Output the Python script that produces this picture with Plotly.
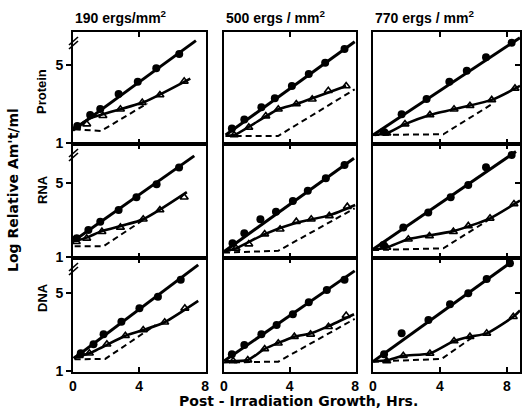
import plotly.graph_objects as go

# ---------------- text / ticks ----------------
DOSE_LABELS = ["190 ergs/mm<sup>2</sup>", "500 ergs / mm<sup>2</sup>", "770 ergs / mm<sup>2</sup>"]
COMPONENT_LABELS = ["Protein", "RNA", "DNA"]
X_TICK_VALS = [0, 4, 8]
X_TICK_TEXT = ["0", "4", "8"]
Y_TICK_VALS = [1, 5]
Y_TICK_TEXT = ["1", "5"]
RIGHT_TICK_VALS = [5]
X_TITLE = "Post - Irradiation Growth, Hrs."
Y_TITLE = "Log Relative Am't/ml"

# ---------------- data: 190 ergs, Protein ----------------
p190_prot_circ_x = [0.26, 1.04, 1.65, 2.76, 3.92, 5.04, 6.43]
p190_prot_circ_y = [1.87, 2.44, 2.74, 3.51, 4.14, 4.83, 5.56]
p190_prot_fit_x = [0.0, 7.44]
p190_prot_fit_y = [1.65, 6.25]
p190_prot_tri_x = [0.2, 0.83, 1.81, 2.87, 4.19, 5.26, 6.73]
p190_prot_tri_y = [1.8, 1.97, 2.4, 2.73, 3.07, 3.46, 4.16]
p190_prot_curve_x = [0.05, 1.0, 4.3, 7.1]
p190_prot_curve_y = [1.72, 2.25, 3.1, 4.3]
p190_prot_dash_x = [0.1, 1.7, 4.5]
p190_prot_dash_y = [1.7, 1.62, 3.03]

# ---------------- 500 ergs, Protein ----------------
p500_prot_circ_x = [0.48, 1.24, 2.28, 3.1, 4.14, 5.17, 6.17, 7.35]
p500_prot_circ_y = [1.75, 2.21, 2.83, 3.29, 3.92, 4.54, 5.12, 5.82]
p500_prot_fit_x = [0.1, 7.97]
p500_prot_fit_y = [1.41, 6.19]
p500_prot_tri_x = [0.62, 1.51, 2.55, 3.31, 4.41, 5.38, 6.36, 7.45]
p500_prot_tri_y = [1.41, 1.8, 2.38, 2.73, 3.0, 3.24, 3.68, 3.92]
p500_prot_curve_x = [0.1, 0.62, 3.31, 4.41, 7.45]
p500_prot_curve_y = [1.38, 1.41, 2.73, 3.0, 3.92]
p500_prot_dash_x = [0.1, 3.3, 7.97]
p500_prot_dash_y = [1.36, 1.36, 3.75]

# ---------------- 770 ergs, Protein ----------------
p770_prot_circ_x = [0.62, 1.71, 3.2, 4.56, 5.6, 6.75, 8.28]
p770_prot_circ_y = [1.58, 2.47, 3.26, 4.14, 4.71, 5.39, 6.14]
p770_prot_fit_x = [0.0, 8.78]
p770_prot_fit_y = [1.41, 6.4]
p770_prot_tri_x = [0.82, 1.91, 3.4, 4.84, 5.79, 7.09, 8.48]
p770_prot_tri_y = [1.5, 1.97, 2.44, 2.73, 2.91, 3.21, 3.8]
p770_prot_curve_x = [0.1, 0.82, 1.91, 3.4, 7.09, 8.78]
p770_prot_curve_y = [1.42, 1.5, 1.97, 2.44, 3.21, 3.93]
p770_prot_dash_x = [0.0, 4.2, 7.18]
p770_prot_dash_y = [1.41, 1.45, 3.03]

# ---------------- 190 ergs, RNA ----------------
p190_rna_circ_x = [0.22, 0.93, 1.65, 2.76, 3.84, 5.06, 6.42]
p190_rna_circ_y = [2.01, 2.46, 2.91, 3.54, 4.23, 4.93, 5.83]
p190_rna_fit_x = [0.05, 7.34]
p190_rna_fit_y = [1.88, 6.46]
p190_rna_tri_x = [0.2, 0.83, 1.75, 2.87, 4.25, 5.26, 6.73]
p190_rna_tri_y = [1.83, 2.01, 2.37, 2.6, 3.04, 3.54, 4.23]
p190_rna_curve_x = [0.05, 0.83, 1.75, 4.25, 6.89]
p190_rna_curve_y = [1.85, 2.05, 2.4, 3.04, 4.5]
p190_rna_dash_x = [0.1, 1.85, 4.25]
p190_rna_dash_y = [1.59, 1.59, 3.0]

# ---------------- 500 ergs, RNA ----------------
p500_rna_circ_x = [0.52, 1.24, 2.22, 3.17, 4.2, 5.11, 6.21, 7.35]
p500_rna_circ_y = [1.74, 2.28, 3.04, 3.45, 4.03, 4.58, 5.25, 5.97]
p500_rna_fit_x = [0.0, 7.93]
p500_rna_fit_y = [1.29, 6.33]
p500_rna_tri_x = [0.73, 1.51, 2.48, 3.42, 4.41, 5.32, 6.42, 7.52]
p500_rna_tri_y = [1.47, 1.7, 2.24, 2.5, 2.91, 3.04, 3.22, 3.72]
p500_rna_curve_x = [0.05, 0.73, 2.48, 4.41, 6.42, 8.0]
p500_rna_curve_y = [1.3, 1.47, 2.24, 2.85, 3.25, 3.81]
p500_rna_dash_x = [0.0, 3.31, 7.97]
p500_rna_dash_y = [1.24, 1.34, 3.63]

# ---------------- 770 ergs, RNA ----------------
p770_rna_circ_x = [0.62, 1.81, 3.3, 4.64, 5.69, 6.75, 8.28]
p770_rna_circ_y = [1.65, 2.6, 3.4, 4.23, 4.89, 5.85, 6.51]
p770_rna_fit_x = [0.0, 8.54]
p770_rna_fit_y = [1.42, 6.69]
p770_rna_tri_x = [0.82, 2.11, 3.37, 4.8, 5.69, 6.99, 8.42]
p770_rna_tri_y = [1.52, 1.96, 2.14, 2.37, 2.68, 3.09, 3.86]
p770_rna_curve_x = [0.05, 0.82, 2.11, 4.8, 6.99, 8.78]
p770_rna_curve_y = [1.4, 1.52, 1.96, 2.4, 3.09, 4.05]
p770_rna_dash_x = [0.0, 4.2, 6.89]
p770_rna_dash_y = [1.38, 1.47, 3.0]

# ---------------- 190 ergs, DNA ----------------
p190_dna_circ_x = [0.47, 1.24, 1.85, 2.93, 4.02, 5.14, 6.52]
p190_dna_circ_y = [1.91, 2.37, 2.88, 3.53, 4.21, 4.81, 5.67]
p190_dna_fit_x = [0.05, 7.58]
p190_dna_fit_y = [1.64, 6.44]
p190_dna_tri_x = [0.38, 0.99, 2.05, 3.17, 4.25, 5.55, 6.77]
p190_dna_tri_y = [1.79, 1.91, 2.37, 2.81, 3.1, 3.5, 4.21]
p190_dna_curve_x = [0.05, 0.99, 3.17, 4.25, 5.55, 7.58]
p190_dna_curve_y = [1.7, 1.91, 2.81, 3.1, 3.5, 4.59]
p190_dna_dash_x = [0.1, 1.95, 5.0]
p190_dna_dash_y = [1.6, 1.62, 3.36]

# ---------------- 500 ergs, DNA ----------------
p500_dna_circ_x = [0.48, 1.24, 2.28, 3.21, 4.2, 5.17, 6.27, 7.35]
p500_dna_circ_y = [1.86, 2.33, 2.88, 3.36, 3.91, 4.52, 5.15, 5.67]
p500_dna_fit_x = [0.0, 7.97]
p500_dna_fit_y = [1.51, 6.13]
p500_dna_tri_x = [0.56, 1.45, 2.48, 3.31, 4.29, 5.28, 6.37, 7.45]
p500_dna_tri_y = [1.51, 1.56, 2.13, 2.42, 2.76, 2.88, 3.27, 3.84]
p500_dna_curve_x = [0.05, 1.45, 2.48, 4.29, 5.28, 6.37, 7.93]
p500_dna_curve_y = [1.5, 1.56, 2.13, 2.76, 2.92, 3.3, 3.91]
p500_dna_dash_x = [0.0, 3.31, 7.97]
p500_dna_dash_y = [1.44, 1.48, 3.67]

# ---------------- 770 ergs, DNA ----------------
p770_dna_circ_x = [0.66, 1.71, 3.31, 4.6, 5.69, 6.79, 8.18]
p770_dna_circ_y = [1.86, 2.93, 3.62, 4.42, 4.98, 5.72, 6.52]
p770_dna_fit_x = [0.0, 8.08]
p770_dna_fit_y = [1.48, 6.47]
p770_dna_tri_x = [0.82, 1.81, 3.4, 4.84, 5.79, 6.79, 8.38]
p770_dna_tri_y = [1.51, 1.78, 1.9, 2.54, 2.76, 2.93, 3.78]
p770_dna_curve_x = [0.05, 0.82, 1.81, 3.4, 4.84, 5.79, 6.79, 8.38, 8.78]
p770_dna_curve_y = [1.5, 1.55, 1.78, 1.9, 2.54, 2.76, 2.93, 3.78, 4.1]
p770_dna_dash_x = [0.0, 4.1, 6.0]
p770_dna_dash_y = [1.48, 1.62, 2.76]

# ---------------- axis ranges per row/col ----------------
X_RANGES = [[0, 8.05], [0, 8.05], [0, 8.78]]
Y_RANGES = [[0.95, 6.69], [0.95, 7.1], [0.95, 6.79]]

# table of panels (row-major)
PANELS = [
    [p190_prot_circ_x, p190_prot_circ_y, p190_prot_fit_x, p190_prot_fit_y, p190_prot_tri_x, p190_prot_tri_y, p190_prot_curve_x, p190_prot_curve_y, p190_prot_dash_x, p190_prot_dash_y],
    [p500_prot_circ_x, p500_prot_circ_y, p500_prot_fit_x, p500_prot_fit_y, p500_prot_tri_x, p500_prot_tri_y, p500_prot_curve_x, p500_prot_curve_y, p500_prot_dash_x, p500_prot_dash_y],
    [p770_prot_circ_x, p770_prot_circ_y, p770_prot_fit_x, p770_prot_fit_y, p770_prot_tri_x, p770_prot_tri_y, p770_prot_curve_x, p770_prot_curve_y, p770_prot_dash_x, p770_prot_dash_y],
    [p190_rna_circ_x, p190_rna_circ_y, p190_rna_fit_x, p190_rna_fit_y, p190_rna_tri_x, p190_rna_tri_y, p190_rna_curve_x, p190_rna_curve_y, p190_rna_dash_x, p190_rna_dash_y],
    [p500_rna_circ_x, p500_rna_circ_y, p500_rna_fit_x, p500_rna_fit_y, p500_rna_tri_x, p500_rna_tri_y, p500_rna_curve_x, p500_rna_curve_y, p500_rna_dash_x, p500_rna_dash_y],
    [p770_rna_circ_x, p770_rna_circ_y, p770_rna_fit_x, p770_rna_fit_y, p770_rna_tri_x, p770_rna_tri_y, p770_rna_curve_x, p770_rna_curve_y, p770_rna_dash_x, p770_rna_dash_y],
    [p190_dna_circ_x, p190_dna_circ_y, p190_dna_fit_x, p190_dna_fit_y, p190_dna_tri_x, p190_dna_tri_y, p190_dna_curve_x, p190_dna_curve_y, p190_dna_dash_x, p190_dna_dash_y],
    [p500_dna_circ_x, p500_dna_circ_y, p500_dna_fit_x, p500_dna_fit_y, p500_dna_tri_x, p500_dna_tri_y, p500_dna_curve_x, p500_dna_curve_y, p500_dna_dash_x, p500_dna_dash_y],
    [p770_dna_circ_x, p770_dna_circ_y, p770_dna_fit_x, p770_dna_fit_y, p770_dna_tri_x, p770_dna_tri_y, p770_dna_curve_x, p770_dna_curve_y, p770_dna_dash_x, p770_dna_dash_y],
]

W, H = 522, 410
FONT = "Liberation Sans, Arial, sans-serif"
WIDE_FONT = "DejaVu Sans, Verdana, sans-serif"
COL_PX = [(73, 206), (224, 356), (373, 520)]
ROW_PX = [(32, 144), (144, 258), (258, 372)]

fig = go.Figure()
layout = dict(
    width=W, height=H, margin=dict(l=0, r=0, t=0, b=0, autoexpand=False),
    paper_bgcolor="white", plot_bgcolor="white", showlegend=False,
    font=dict(family=FONT, color="black"),
)

for k, pdata in enumerate(PANELS):
    r, c = divmod(k, 3)
    idx = "" if k == 0 else str(k + 1)
    xa, ya = "x" + idx, "y" + idx
    cx, cy, fx, fy, tx, ty, ux, uy, dx, dy = pdata
    # dashed reference line
    fig.add_trace(go.Scatter(x=dx, y=dy, mode="lines", xaxis=xa, yaxis=ya,
                             line=dict(color="black", width=2, dash="6px,4px")))
    # triangle curve
    fig.add_trace(go.Scatter(x=ux, y=uy, mode="lines", xaxis=xa, yaxis=ya,
                             line=dict(color="black", width=2.6, shape="spline", smoothing=0.6)))
    # circle fit line
    fig.add_trace(go.Scatter(x=fx, y=fy, mode="lines", xaxis=xa, yaxis=ya,
                             line=dict(color="black", width=3)))
    # triangles
    fig.add_trace(go.Scatter(x=tx, y=ty, mode="markers", xaxis=xa, yaxis=ya,
                             marker=dict(symbol="triangle-up-open", size=7, color="black",
                                         line=dict(width=1.6, color="black"))))
    # circles
    fig.add_trace(go.Scatter(x=cx, y=cy, mode="markers", xaxis=xa, yaxis=ya,
                             marker=dict(symbol="circle", size=8, color="black")))

    x0, x1 = COL_PX[c]
    y0, y1 = ROW_PX[r]
    layout["xaxis" + idx] = dict(
        domain=[x0 / W, x1 / W], range=X_RANGES[c], anchor=ya, automargin=False,
        tickvals=X_TICK_VALS, ticktext=X_TICK_TEXT, showticklabels=(r == 2),
        ticks="inside", ticklen=5, tickwidth=2, tickcolor="black", mirror="ticks",
        showline=True, linewidth=2, linecolor="black", showgrid=False, zeroline=False,
        tickfont=dict(size=14, family=FONT, color="black", weight="bold"),
        fixedrange=True,
    )
    layout["yaxis" + idx] = dict(
        domain=[1 - y1 / H, 1 - y0 / H], range=Y_RANGES[r], anchor=xa, automargin=False,
        tickvals=Y_TICK_VALS if c == 0 else [], ticktext=Y_TICK_TEXT if c == 0 else [],
        showticklabels=(c == 0),
        ticks="outside" if c == 0 else "", ticklen=5, tickwidth=2, tickcolor="black",
        showline=True, linewidth=2, linecolor="black", mirror=True,
        showgrid=False, zeroline=False,
        tickfont=dict(size=14, family=FONT, color="black", weight="bold"),
        fixedrange=True,
    )

# inward tick at 5 on the right edge of the last column (overlay axis + empty trace)
for r in range(3):
    k = r * 3 + 2
    idx = str(k + 1)
    ov = "y" + str(10 + r)
    fig.add_trace(go.Scatter(x=[], y=[], mode="markers", xaxis="x" + idx, yaxis=ov,
                             showlegend=False, hoverinfo="skip"))
    layout["yaxis" + str(10 + r)] = dict(
        overlaying="y" + idx, side="right", anchor="x" + idx, range=Y_RANGES[r],
        tickvals=RIGHT_TICK_VALS, showticklabels=False, ticks="inside", ticklen=5,
        tickwidth=2, tickcolor="black", showline=False, showgrid=False, zeroline=False,
        automargin=False, fixedrange=True,
    )

annotations = []
for c, lab in enumerate(DOSE_LABELS):
    annotations.append(dict(text="<b>" + lab + "</b>", xref="paper", yref="paper",
                            x=COL_PX[c][0] / W, y=1 - 17 / H, xanchor="left", yanchor="middle",
                            showarrow=False, font=dict(size=14, family=FONT, color="black")))
ROW_LABEL_Y = [92, 190, 298]
for r, lab in enumerate(COMPONENT_LABELS):
    annotations.append(dict(text="<b>" + lab + "</b>", xref="paper", yref="paper",
                            x=42 / W, y=1 - ROW_LABEL_Y[r] / H, xanchor="center", yanchor="middle",
                            textangle=-90, showarrow=False,
                            font=dict(size=13, family=FONT, color="black")))
annotations.append(dict(text="<b>" + Y_TITLE + "</b>", xref="paper", yref="paper",
                        x=13 / W, y=1 - 190 / H, xanchor="center", yanchor="middle",
                        textangle=-90, showarrow=False,
                        font=dict(size=14, family=WIDE_FONT, color="black")))
annotations.append(dict(text="<b>" + X_TITLE + "</b>", xref="paper", yref="paper",
                        x=298 / W, y=1 - 401 / H, xanchor="center", yanchor="middle",
                        showarrow=False, font=dict(size=14, family=WIDE_FONT, color="black")))
layout["annotations"] = annotations

# axis-break marks on the left axis of the first column
shapes = []
for r in range(3):
    ytop = ROW_PX[r][0] + 8
    for off in (0, 4):
        shapes.append(dict(type="line", xref="paper", yref="paper",
                           x0=(69) / W, y0=1 - (ytop + 5 + off) / H,
                           x1=(78) / W, y1=1 - (ytop - 3 + off) / H,
                           line=dict(color="black", width=1.6)))
layout["shapes"] = shapes

fig.update_layout(**layout)
fig.write_html(
    "out.html",
    config={"displayModeBar": False, "staticPlot": True},
    post_script="document.body.style.margin='0';document.body.style.overflow='hidden';",
)
